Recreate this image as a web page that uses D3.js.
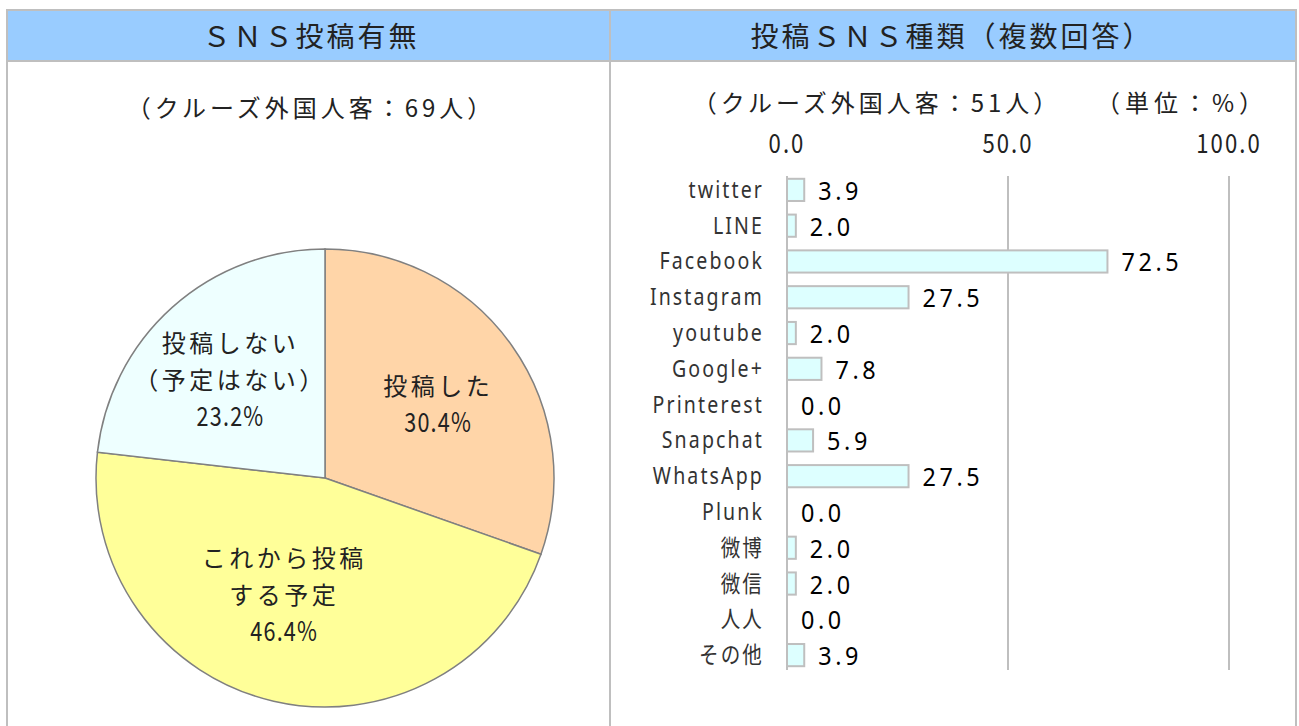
<!DOCTYPE html>
<html>
<head>
<meta charset="utf-8">
<script src="https://cdn.jsdelivr.net/npm/d3@7"></script>
<style>
  html, body { margin: 0; padding: 0; background: #fff; }
  svg { display: block; }
</style>
</head>
<body>
<div id="chart"></div>
<script>
  // --- data ---
  const HEAD_LEFT = 'ＳＮＳ投稿有無';
  const HEAD_RIGHT = '投稿ＳＮＳ種類（複数回答）';
  const SUB_LEFT = '（クルーズ外国人客：69人）';
  const SUB_RIGHT = '（クルーズ外国人客：51人）';
  const UNIT = '（単位：%）';

  const pieLabels = [['投稿した'], ['これから投稿', 'する予定'], ['投稿しない', '（予定はない）']];
  const pieValues = [30.4, 46.4, 23.2];
  const pieColors = ['#FFD5A8', '#FFFF99', '#EEFFFF'];

  const snsNames = ['twitter', 'LINE', 'Facebook', 'Instagram', 'youtube', 'Google+', 'Printerest',
    'Snapchat', 'WhatsApp', 'Plunk', '微博', '微信', '人人', 'その他'];
  const snsValues = [3.9, 2.0, 72.5, 27.5, 2.0, 7.8, 0.0, 5.9, 27.5, 0.0, 2.0, 2.0, 0.0, 3.9];
  const xTicks = [0, 50, 100];

  const W = 1299, H = 726;
  const JP = "'Noto Sans CJK JP', 'Noto Sans', sans-serif";
  const LATIN = "'Noto Sans', 'Noto Sans CJK JP', sans-serif";
  const GRID = '#BFBFBF';

  const svg = d3.select('#chart').append('svg').attr('width', W).attr('height', H);

  // text helper: horizontally squeezed text to mimic the narrow original face
  function addText(parent, x, y, str, o) {
    o = o || {};
    const sx = o.sx || 1;
    return parent.append('text')
      .attr('transform', `translate(${x},${y}) scale(${sx},1)`)
      .attr('text-anchor', o.anchor || 'middle')
      .style('font-family', o.font || JP)
      .style('font-size', (o.size || 24) + 'px')
      .style('letter-spacing', (o.ls || 0) + 'px')
      .style('fill', o.fill || '#222')
      .text(str);
  }

  // --- frame / header ---
  const divX = 610;
  svg.append('rect').attr('x', 7).attr('y', 11).attr('width', 1289).attr('height', 50).attr('fill', '#99CCFF');
  svg.append('rect').attr('x', 7).attr('y', 10).attr('width', 1289).attr('height', 740)
    .attr('fill', 'none').attr('stroke', GRID).attr('stroke-width', 2);
  svg.append('line').attr('x1', 7).attr('x2', 1296).attr('y1', 61).attr('y2', 61)
    .attr('stroke', GRID).attr('stroke-width', 2);
  svg.append('line').attr('x1', divX).attr('x2', divX).attr('y1', 10).attr('y2', H)
    .attr('stroke', GRID).attr('stroke-width', 2);

  addText(svg, 311, 47, HEAD_LEFT, { size: 28, ls: 3 });
  addText(svg, 952, 47, HEAD_RIGHT, { size: 28, ls: 3 });

  addText(svg, 311, 117, SUB_LEFT, { size: 24, ls: 4 });
  addText(svg, 877, 112, SUB_RIGHT, { size: 24, ls: 4 });
  addText(svg, 1182, 112, UNIT, { size: 24, ls: 5 });

  // --- pie ---
  const cx = 325, cy = 478, R = 229;
  const pg = svg.append('g').attr('transform', `translate(${cx},${cy})`);
  const arcs = d3.pie().sort(null)(pieValues);
  const arc = d3.arc().innerRadius(0).outerRadius(R);
  pg.selectAll('path').data(arcs).enter().append('path')
    .attr('d', arc).attr('fill', (d, i) => pieColors[i])
    .attr('stroke', '#808080').attr('stroke-width', 1.5);

  // label positions: centroid at a chosen radius fraction plus a small nudge
  const labelR = [0.6, 0.6, 0.58];
  const nudge = [[1, 6], [-10, -17], [-6, 1]];
  arcs.forEach((d, i) => {
    const r = R * labelR[i];
    const c = d3.arc().innerRadius(r).outerRadius(r).centroid(d);
    const lx = c[0] + nudge[i][0], ly = c[1] + nudge[i][1];
    const lines = pieLabels[i].concat([d3.format('.1f')(pieValues[i]) + '%']);
    const lh = 37;
    const y0 = ly - (lines.length - 1) * lh / 2;
    lines.forEach((t, k) => {
      const isPct = k === lines.length - 1;
      addText(pg, lx, y0 + k * lh + 9, t, isPct
        ? { size: 27, ls: 1.5, sx: 0.8 }
        : { size: 24, ls: 3.5 });
    });
  });

  // --- bar chart ---
  const x = d3.scaleLinear().domain([0, 100]).range([787, 1229]);
  const y = d3.scaleBand().domain(snsNames).range([172, 673]).paddingInner(0.38).paddingOuter(0.19);

  svg.selectAll('.grid').data(xTicks).enter().append('line')
    .attr('x1', d => x(d)).attr('x2', d => x(d)).attr('y1', 176).attr('y2', 670)
    .attr('stroke', GRID).attr('stroke-width', 2);

  xTicks.forEach(t => addText(svg, x(t), 153, d3.format('.1f')(t), { size: 27, ls: 2.5, sx: 0.82 }));

  svg.selectAll('.bar').data(snsNames).enter().append('rect')
    .attr('x', x(0)).attr('y', d => y(d))
    .attr('width', (d, i) => Math.max(0, x(snsValues[i]) - x(0)))
    .attr('height', y.bandwidth())
    .attr('fill', '#DDFFFF').attr('stroke', GRID).attr('stroke-width', 2)
    .style('display', (d, i) => snsValues[i] > 0 ? null : 'none');

  snsNames.forEach((name, i) => {
    const yc = y(name) + y.bandwidth() / 2;
    addText(svg, 764, yc + 8, name, { anchor: 'end', size: 23, ls: 2.5, sx: 0.85, fill: '#333', font: LATIN });
    addText(svg, x(snsValues[i]) + 14, yc + 10, d3.format('.1f')(snsValues[i]),
      { anchor: 'start', size: 26, ls: 4, sx: 0.9, fill: '#000', font: LATIN });
  });
</script>
</body>
</html>
